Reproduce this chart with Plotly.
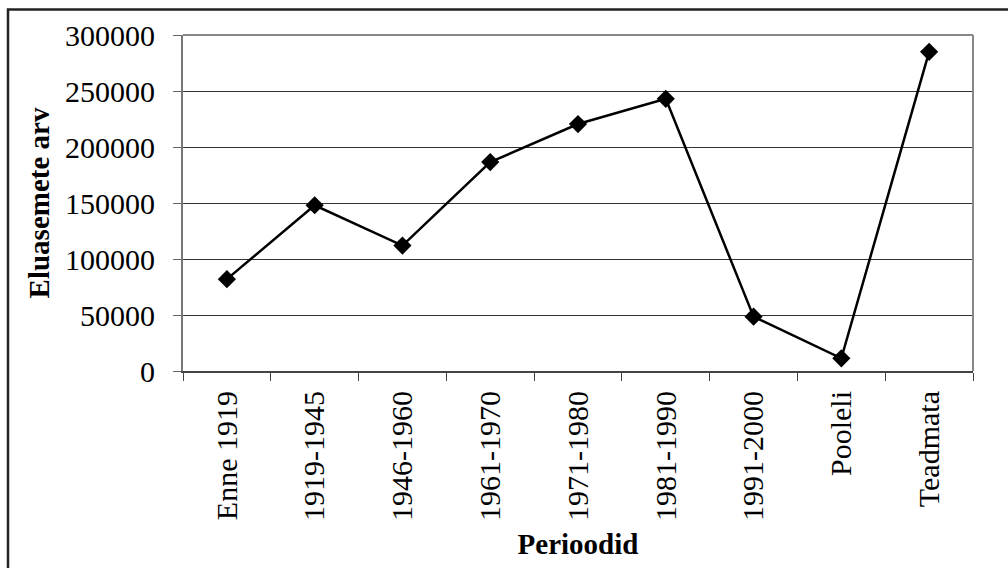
import plotly.graph_objects as go

categories = ["Enne 1919", "1919-1945", "1946-1960", "1961-1970", "1971-1980",
              "1981-1990", "1991-2000", "Pooleli", "Teadmata"]
values = [82000, 148000, 112000, 186500, 220500, 243000, 48500, 11300, 285000]
y_ticks = [0, 50000, 100000, 150000, 200000, 250000, 300000]

W, H = 1008, 568
L, R, T, B = 183, 35, 35, 197
pw, ph = W - L - R, H - T - B

def px_x(px):
    return (px - L) / pw

def px_y(py):
    return (H - B - py) / ph

font = "Liberation Serif, Times New Roman, serif"

fig = go.Figure()
fig.add_trace(go.Scatter(
    x=categories, y=values, mode="lines+markers",
    line=dict(color="black", width=2.5),
    marker=dict(symbol="diamond", size=14, color="black"),
    showlegend=False,
))

fig.update_layout(
    width=W, height=H,
    margin=dict(l=L, r=R, t=T, b=B),
    paper_bgcolor="white", plot_bgcolor="white",
    font=dict(family=font, size=30, color="black"),
    xaxis=dict(
        type="category", range=[-0.5, 8.5],
        tickangle=-90, ticks="outside", ticklen=8, tickcolor="#444",
        tickson="boundaries", showline=True, linecolor="#444", linewidth=2,
        mirror=False, showgrid=False,
        tickfont=dict(family=font, size=30),
        ticklabelstandoff=6,
        title=dict(text="<b>Perioodid</b>", font=dict(family=font, size=29), standoff=14),
    ),
    yaxis=dict(
        range=[0, 300000], tickvals=y_ticks, ticktext=[str(v) for v in y_ticks],
        ticks="outside", ticklen=8, tickcolor="#666",
        showline=True, linecolor="#777", linewidth=2,
        showgrid=True, gridcolor="#333", gridwidth=1,
        zeroline=False,
        tickfont=dict(family=font, size=30),
        ticklabelstandoff=12,
        title=dict(text="<b>Eluasemete arv</b>", font=dict(family=font, size=29), standoff=7),
    ),
    shapes=[
        dict(type="line", xref="paper", yref="paper", x0=0, x1=1, y0=1, y1=1,
             line=dict(color="#888", width=2)),
        dict(type="line", xref="paper", yref="paper", x0=1, x1=1, y0=0, y1=1,
             line=dict(color="#888", width=2)),
        dict(type="rect", xref="paper", yref="paper",
             x0=px_x(8), x1=px_x(1015), y0=px_y(9.5), y1=px_y(575),
             line=dict(color="#222", width=2.5), fillcolor="rgba(0,0,0,0)", layer="below"),
    ],
)

fig.write_html("out.html", config={"displayModeBar": False},
               post_script="document.body.style.margin='0';")
